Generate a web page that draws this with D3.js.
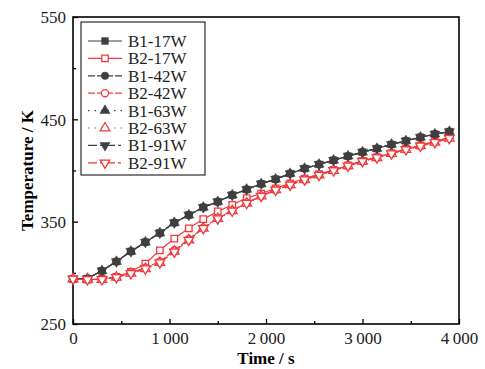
<!DOCTYPE html>
<html>
<head>
<meta charset="utf-8">
<script src="https://cdn.jsdelivr.net/npm/d3@7"></script>
<style>
    body { margin: 0; background: #fff; }
    svg { font-family: "Liberation Serif", "Times New Roman", serif; }
</style>
</head>
<body>
<svg id="drawing_region"></svg>
<script>
// time in seconds
const time = [0, 150, 300, 450, 600, 750, 900, 1050, 1200, 1350, 1500, 1650, 1800, 1950,
    2100, 2250, 2400, 2550, 2700, 2850, 3000, 3150, 3300, 3450, 3600, 3750, 3900];

const b1_17 = [294, 294.5, 302, 311, 321, 330, 339, 349, 356.5, 364, 369.5, 376, 381.5, 387,
    391.5, 397, 402, 406, 410, 414, 418, 421.5, 425.5, 429, 432.5, 435.5, 438];
const b1_42 = [294, 294.5, 302, 311, 321, 330, 339, 349, 356.5, 364, 369.5, 376, 381.5, 387,
    391.5, 397, 402, 406, 410, 414, 418, 421.5, 425.5, 429, 432.5, 435.5, 438];
const b1_63 = [294, 294.5, 302, 311, 321, 330, 339, 349, 356.5, 364, 369.5, 376, 381.5, 387,
    391.5, 397, 402, 406, 410, 414, 418, 421.5, 425.5, 429, 432.5, 435.5, 438];
const b1_91 = [294, 294.5, 302, 311, 321, 330, 339, 349, 356.5, 364, 369.5, 376, 381.5, 387,
    391.5, 397, 402, 406, 410, 414, 418, 421.5, 425.5, 429, 432.5, 435.5, 438];

const b2_17 = [294, 293.5, 294, 296, 301, 309, 322, 333.5, 343.5, 352.5, 360, 366.5, 373, 377.5,
    382.5, 387.5, 392, 396.5, 400.5, 405, 409.5, 413, 417, 421, 424.5, 428.5, 432.5];
const b2_42 = [294, 293.5, 293.5, 295.5, 300, 305, 311, 322, 333, 344, 353.5, 361, 368.5, 375,
    381, 386, 391, 395.5, 400, 404.5, 409, 412.5, 416.5, 420.5, 424, 427.5, 431.5];
const b2_63 = [294, 293.5, 293.5, 295.5, 299.5, 304, 310, 321, 332, 343.5, 353, 360.5, 368, 375,
    381, 386, 391, 395.5, 400, 404.5, 409, 412.5, 416.5, 420.5, 424, 427.5, 431.5];
const b2_91 = [294, 293.5, 293.5, 295.5, 299.5, 304, 310, 320.5, 332, 343.5, 353, 360.5, 368, 375,
    381, 386, 391, 395.5, 400, 404.5, 409, 412.5, 416.5, 420.5, 424, 427.5, 431.5];

const series_names = ['B1-17W', 'B2-17W', 'B1-42W', 'B2-42W', 'B1-63W', 'B2-63W', 'B1-91W', 'B2-91W'];
const series_values = [b1_17, b2_17, b1_42, b2_42, b1_63, b2_63, b1_91, b2_91];

const x_ticks = [0, 1000, 2000, 3000, 4000];
const x_minor = [500, 1500, 2500, 3500];
const y_ticks = [250, 350, 450, 550];
const y_minor = [300, 400, 500];

const dark = '#3f3f3f';
const red = '#f0393c';
const styles = [
    { color: dark, shape: d3.symbolSquare, size: 46, filled: true, dash: null, rot: 0 },
    { color: red, shape: d3.symbolSquare, size: 42, filled: false, dash: null, rot: 0 },
    { color: dark, shape: d3.symbolCircle, size: 44, filled: true, dash: '7,2', rot: 0 },
    { color: red, shape: d3.symbolCircle, size: 40, filled: false, dash: '7,2', rot: 0 },
    { color: dark, shape: d3.symbolTriangle, size: 44, filled: true, dash: '1.5,5', rot: 0 },
    { color: red, shape: d3.symbolTriangle, size: 40, filled: false, dash: '1.5,5', rot: 0 },
    { color: dark, shape: d3.symbolTriangle, size: 44, filled: true, dash: '9,3,3,3', rot: 180 },
    { color: red, shape: d3.symbolTriangle, size: 40, filled: false, dash: '9,3,3,3', rot: 180 },
];

const config = {
    width: 485,
    height: 369,
    margin: { top: 17, right: 26, bottom: 45, left: 73 }
};

const svg = d3.select('#drawing_region')
    .attr('width', config.width)
    .attr('height', config.height);

const inner_width = config.width - config.margin.left - config.margin.right;
const inner_height = config.height - config.margin.top - config.margin.bottom;

const chart = svg.append('g')
    .attr('transform', `translate(${config.margin.left}, ${config.margin.top})`);

const xscale = d3.scaleLinear().domain([0, 4000]).range([0, inner_width]);
const yscale = d3.scaleLinear().domain([250, 550]).range([inner_height, 0]);

const fmt = d => d3.format(',')(d).replace(',', '\u2009');

// axes (ticks inside)
const xaxis = d3.axisBottom(xscale).tickValues(x_ticks).tickSize(-5).tickPadding(8).tickFormat(fmt);
const xaxis_minor = d3.axisBottom(xscale).tickValues(x_minor).tickSize(-3).tickFormat('');
const yaxis = d3.axisLeft(yscale).tickValues(y_ticks).tickSize(-5).tickPadding(7);
const yaxis_minor = d3.axisLeft(yscale).tickValues(y_minor).tickSize(-3).tickFormat('');

const xg = chart.append('g').attr('transform', `translate(0, ${inner_height})`).call(xaxis);
chart.append('g').attr('transform', `translate(0, ${inner_height})`).call(xaxis_minor);
const yg = chart.append('g').call(yaxis);
chart.append('g').call(yaxis_minor);

chart.selectAll('.domain').remove();
chart.selectAll('.tick line').attr('stroke', '#000').attr('stroke-width', 1.3);
chart.selectAll('.tick text')
    .attr('fill', '#222')
    .attr('font-size', '17px')
    .attr('font-family', '"Liberation Serif", serif');
yg.selectAll('.tick text').attr('dy', '0.35em');

// frame
chart.append('rect')
    .attr('x', 0).attr('y', 0)
    .attr('width', inner_width).attr('height', inner_height)
    .attr('fill', 'none')
    .attr('stroke', '#000')
    .attr('stroke-width', 1.6);

// lines and markers
const line = d3.line()
    .x((d, i) => xscale(time[i]))
    .y(d => yscale(d));

series_values.forEach((vals, k) => {
    const st = styles[k];
    const g = chart.append('g');
    g.append('path')
        .datum(vals)
        .attr('d', line)
        .attr('fill', 'none')
        .attr('stroke', st.color)
        .attr('stroke-width', 1.2)
        .attr('stroke-dasharray', st.dash);
    g.selectAll('path.mark')
        .data(vals)
        .enter()
        .append('path')
        .attr('class', 'mark')
        .attr('d', d3.symbol().type(st.shape).size(st.size))
        .attr('transform', (d, i) => `translate(${xscale(time[i])}, ${yscale(d)}) rotate(${st.rot})`)
        .attr('fill', st.filled ? st.color : '#fff')
        .attr('stroke', st.color)
        .attr('stroke-width', st.filled ? 0.5 : 1.3);
});

// legend
const legend = svg.append('g').attr('transform', 'translate(81, 22)');
legend.append('rect')
    .attr('x', 0).attr('y', 0)
    .attr('width', 124).attr('height', 153)
    .attr('fill', '#fff')
    .attr('stroke', '#000')
    .attr('stroke-width', 1);

series_names.forEach((name, k) => {
    const st = styles[k];
    const row = legend.append('g').attr('transform', `translate(0, ${19 + k * 17.4})`);
    row.append('line')
        .attr('x1', 7).attr('x2', 41)
        .attr('y1', 0).attr('y2', 0)
        .attr('stroke', st.color)
        .attr('stroke-width', 1.2)
        .attr('stroke-dasharray', st.dash);
    row.append('path')
        .attr('d', d3.symbol().type(st.shape).size(st.size))
        .attr('transform', `translate(24, 0) rotate(${st.rot})`)
        .attr('fill', st.filled ? st.color : '#fff')
        .attr('stroke', st.color)
        .attr('stroke-width', st.filled ? 0.5 : 1.3);
    row.append('text')
        .attr('x', 47)
        .attr('dy', '0.35em')
        .attr('font-size', '17px')
        .attr('fill', '#222')
        .text(name);
});

// axis titles
svg.append('text')
    .attr('x', config.margin.left + inner_width / 2)
    .attr('y', 364)
    .attr('text-anchor', 'middle')
    .attr('font-size', '17px')
    .attr('font-weight', 'bold')
    .text('Time / s');

svg.append('text')
    .attr('transform', `translate(33, ${config.margin.top + inner_height / 2}) rotate(-90)`)
    .attr('text-anchor', 'middle')
    .attr('font-size', '17px')
    .attr('font-weight', 'bold')
    .text('Temperature / K');
</script>
</body>
</html>
